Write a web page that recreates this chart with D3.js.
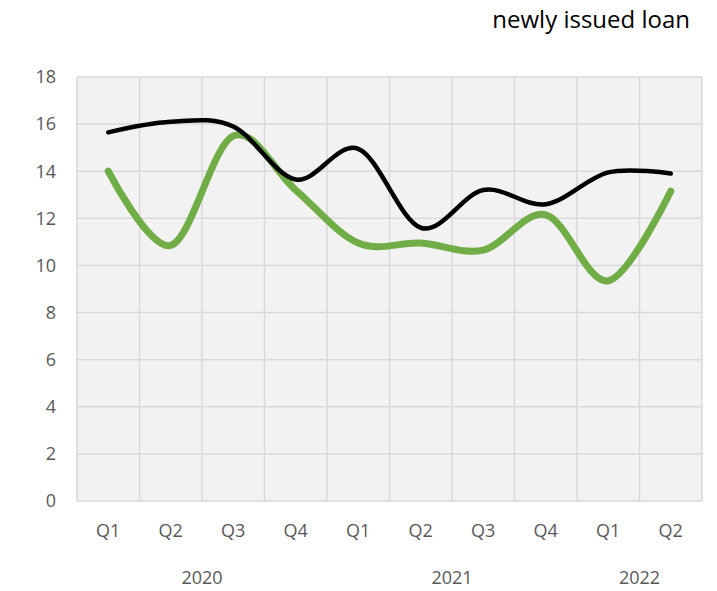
<!DOCTYPE html>
<html>
<head>
<meta charset="utf-8">
<script src="https://cdn.jsdelivr.net/npm/d3@7"></script>
<style>
  body { margin: 0; background: #fff; }
  text { font-family: "Open Sans", "Noto Sans", sans-serif; }
</style>
</head>
<body>
<svg id="chart" width="717" height="591"></svg>
<script>
// data
const quarters = ["Q1", "Q2", "Q3", "Q4", "Q1", "Q2", "Q3", "Q4", "Q1", "Q2"];
const years = [
    { label: "2020", from: 0, to: 4 },
    { label: "2021", from: 4, to: 8 },
    { label: "2022", from: 8, to: 10 }
];
const blackSeries = [15.65, 16.1, 15.9, 13.65, 14.95, 11.6, 13.2, 12.6, 13.95, 13.9];
const greenSeries = [14.0, 10.85, 15.5, 13.2, 10.95, 10.95, 10.65, 12.15, 9.35, 13.15];
const yTicks = [0, 2, 4, 6, 8, 10, 12, 14, 16, 18];

const svg = d3.select("#chart");
const margin = { left: 77, right: 15, top: 77, bottom: 90 };
const W = 717, H = 591;

const idx = d3.range(quarters.length);
const x = d3.scaleBand()
    .domain(idx)
    .range([margin.left, W - margin.right]);
const y = d3.scaleLinear()
    .domain([0, 18])
    .range([H - margin.bottom, margin.top]);

// plot background
svg.append("rect")
    .attr("x", x.range()[0])
    .attr("y", y(18))
    .attr("width", x.range()[1] - x.range()[0])
    .attr("height", y(0) - y(18))
    .attr("fill", "#f2f2f2");

// horizontal grid
svg.append("g")
    .selectAll("line")
    .data(yTicks)
    .enter().append("line")
    .attr("x1", x.range()[0])
    .attr("x2", x.range()[1])
    .attr("y1", d => y(d))
    .attr("y2", d => y(d))
    .attr("stroke", "#d9d9d9")
    .attr("stroke-width", 1.5);

// vertical grid at band edges
const edges = idx.map(i => x(i)).concat([x.range()[1]]);
svg.append("g")
    .selectAll("line")
    .data(edges)
    .enter().append("line")
    .attr("x1", d => d)
    .attr("x2", d => d)
    .attr("y1", y(18))
    .attr("y2", y(0))
    .attr("stroke", "#d9d9d9")
    .attr("stroke-width", 1.5);

// y axis labels
svg.append("g")
    .selectAll("text")
    .data(yTicks)
    .enter().append("text")
    .attr("x", 56)
    .attr("y", d => y(d))
    .attr("dy", "0.35em")
    .attr("text-anchor", "end")
    .attr("font-size", 18)
    .attr("fill", "#595959")
    .text(d => d);

// quarter labels
svg.append("g")
    .selectAll("text")
    .data(quarters)
    .enter().append("text")
    .attr("x", (d, i) => x(i) + x.bandwidth() / 2)
    .attr("y", 531)
    .attr("dy", "0.35em")
    .attr("text-anchor", "middle")
    .attr("font-size", 18)
    .attr("fill", "#595959")
    .text(d => d);

// year labels
svg.append("g")
    .selectAll("text")
    .data(years)
    .enter().append("text")
    .attr("x", d => (x(d.from) + (d.to < quarters.length ? x(d.to) : x.range()[1])) / 2)
    .attr("y", 578)
    .attr("dy", "0.35em")
    .attr("text-anchor", "middle")
    .attr("font-size", 18)
    .attr("fill", "#595959")
    .text(d => d.label);

// lines
const line = d3.line()
    .x((d, i) => x(i) + x.bandwidth() / 2)
    .y(d => y(d))
    .curve(d3.curveCardinal.tension(0));

svg.append("path")
    .datum(greenSeries)
    .attr("d", line)
    .attr("fill", "none")
    .attr("stroke", "#70ad47")
    .attr("stroke-width", 7)
    .attr("stroke-linecap", "round")
    .attr("stroke-linejoin", "round");

svg.append("path")
    .datum(blackSeries)
    .attr("d", line)
    .attr("fill", "none")
    .attr("stroke", "#000")
    .attr("stroke-width", 4.5)
    .attr("stroke-linecap", "round")
    .attr("stroke-linejoin", "round");

// title
svg.append("text")
    .attr("x", 690)
    .attr("y", 20)
    .attr("dy", "0.35em")
    .attr("text-anchor", "end")
    .attr("font-size", 24)
    .attr("fill", "#000")
    .text("newly issued loan");
</script>
</body>
</html>
